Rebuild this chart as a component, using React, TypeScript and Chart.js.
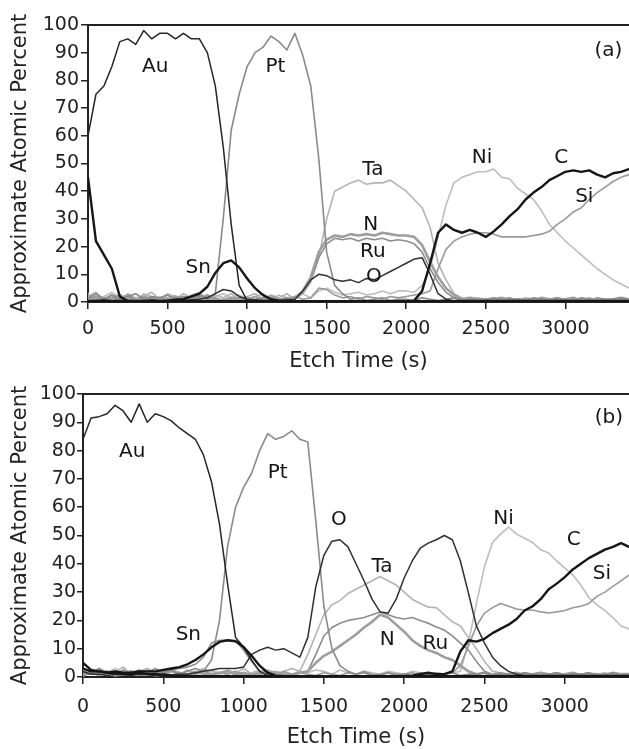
import React, { useEffect, useRef } from "react";
import { Chart, registerables } from "chart.js";

Chart.register(...registerables);

const FONT = "'DejaVu Sans', sans-serif";

// ---------- shared axes ----------
const etchTime = [0, 50, 100, 150, 200, 250, 300, 350, 400, 450, 500, 550, 600, 650, 700, 750, 800, 850, 900, 950, 1000, 1050, 1100, 1150, 1200, 1250, 1300, 1350, 1400, 1450, 1500, 1550, 1600, 1650, 1700, 1750, 1800, 1850, 1900, 1950, 2000, 2050, 2100, 2150, 2200, 2250, 2300, 2350, 2400, 2450, 2500, 2550, 2600, 2650, 2700, 2750, 2800, 2850, 2900, 2950, 3000, 3050, 3100, 3150, 3200, 3250, 3300, 3350, 3400];
const xTickValues = [0, 500, 1000, 1500, 2000, 2500, 3000];
const yTickValues = [0, 10, 20, 30, 40, 50, 60, 70, 80, 90, 100];
const xTitle = "Etch Time (s)";
const yTitle = "Approximate Atomic Percent";

// ---------- panel (a) ----------
const auA = [
  60, 75, 78, 85, 94, 95, 93, 98, 95, 97,
  97, 95, 97, 95, 95, 90, 78, 56, 28, 6,
  0.5, 0.3, 0.2, 0.2, 0.2, 0.2, 0.2, 0.2, 0.2, 0.2,
  0.2, 0.2, 0.2, 0.2, 0.2, 0.2, 0.2, 0.2, 0.2, 0.2,
  0.2, 0.2, 0.2, 0.2, 0.2, 0.2, 0.2, 0.2, 0.2, 0.2,
  0.2, 0.2, 0.2, 0.2, 0.2, 0.2, 0.2, 0.2, 0.2, 0.2,
  0.2, 0.2, 0.2, 0.2, 0.2, 0.2, 0.2, 0.2, 0.2];
const ptA = [
  1.5, 3, 1, 2.5, 1, 2, 3, 1, 2, 1.5,
  2.5, 1, 2, 1.5, 2.5, 1.5, 3, 30, 62, 75,
  85, 90, 92, 96, 94, 91, 97, 89, 78, 52,
  18, 6, 3, 1, 1.5, 0.5, 1, 1.5, 0.5, 1,
  1, 0.5, 1.5, 1, 0.5, 1, 1.5, 0.5, 1, 0.5,
  1, 1.5, 0.5, 1, 1, 0.5, 1.5, 1, 0.5, 1,
  1, 0.5, 1.5, 1, 0.5, 1, 1, 1.5, 0.5];
const snA = [
  0.3, 0.3, 0.3, 0.3, 0.3, 0.3, 0.3, 0.3, 0.3, 0.3,
  0.5, 0.8, 1, 2, 3, 5.5, 10.5, 14, 15, 12.5,
  8.5, 5, 2.5, 1, 0.5, 0.3, 0.3, 0.3, 0.3, 0.3,
  0.3, 0.3, 0.3, 0.3, 0.3, 0.3, 0.3, 0.3, 0.3, 0.3,
  0.3, 0.3, 0.3, 0.3, 0.3, 0.3, 0.3, 0.3, 0.3, 0.3,
  0.3, 0.3, 0.3, 0.3, 0.3, 0.3, 0.3, 0.3, 0.3, 0.3,
  0.3, 0.3, 0.3, 0.3, 0.3, 0.3, 0.3, 0.3, 0.3];
const cA = [
  45, 22, 17, 12, 2, 0.3, 0.3, 0.3, 0.3, 0.3,
  0.3, 0.3, 0.3, 0.3, 0.3, 0.3, 0.3, 0.3, 0.3, 0.3,
  0.3, 0.3, 0.3, 0.3, 0.3, 0.3, 0.3, 0.3, 0.3, 0.3,
  0.3, 0.3, 0.3, 0.3, 0.3, 0.3, 0.3, 0.3, 0.3, 0.3,
  0.3, 0.5, 4, 14, 25, 28, 26, 25, 26, 25,
  23.5, 25.5, 28, 31, 33.5, 37, 39.5, 41.5, 44, 45.5,
  47, 47.5, 47, 47.5, 46, 45, 46.5, 47, 48];
const oA = [
  0.5, 0.5, 0.8, 0.5, 0.5, 0.6, 0.5, 0.5, 0.8, 0.5,
  0.5, 0.8, 0.5, 0.8, 1, 1.5, 3, 4.5, 4, 2,
  1, 0.8, 0.5, 0.5, 0.5, 0.8, 1, 4, 8, 10,
  9.5, 8, 7.5, 8, 7, 8.5, 8, 9.5, 11, 12.5,
  14, 15.5, 16, 10, 3, 1, 0.5, 0.5, 0.5, 0.5,
  0.5, 0.5, 0.5, 0.5, 0.5, 0.5, 0.5, 0.5, 0.5, 0.5,
  0.5, 0.5, 0.5, 0.5, 0.5, 0.5, 0.5, 0.5, 0.5];
const taA = [
  2, 3.5, 1, 2.5, 0.5, 3, 1.5, 2, 3.5, 1,
  2.5, 1, 3, 1.5, 2, 0.5, 2.5, 1.5, 3, 1,
  2, 3, 1, 2.5, 1.5, 3, 1, 3, 7, 16,
  30, 40, 41.5, 43, 44, 42.5, 43, 43, 44, 42,
  40, 37, 34, 27, 14, 8, 3, 1.5, 1, 1.5,
  1, 0.5, 1.5, 1, 0.5, 1.5, 1, 0.5, 1, 1.5,
  1, 0.5, 1, 1.5, 0.5, 1, 1, 0.5, 1];
const nA = [
  1, 2, 0.5, 1.5, 2.5, 1, 0.5, 2, 1, 1.5,
  0.5, 2, 1, 1.5, 1, 2.5, 1, 0.5, 1.5, 1,
  1.5, 0.5, 1, 2, 1, 0.5, 1.5, 4, 9, 18,
  22.5, 24, 23.5, 24.5, 24, 24.5, 24, 25, 24.5, 24,
  24, 23.5, 20.5, 14.5, 9, 5, 2.5, 1, 1.5, 1,
  0.5, 1, 1.5, 0.5, 1, 1, 0.5, 1.5, 1, 0.5,
  1, 1.5, 0.5, 1, 1, 0.5, 1, 1.5, 1];
const ruA = [
  0.5, 1, 1.5, 0.5, 1, 2, 0.5, 1, 1.5, 0.5,
  1, 1.5, 0.5, 1, 2, 1, 1.5, 0.5, 1, 1.5,
  0.5, 1, 1.5, 0.5, 1, 1.5, 1, 3.5, 8, 16,
  21, 23, 22.5, 23, 22, 23, 22.5, 23, 22, 22.5,
  22, 21, 18, 12, 7, 3.5, 1.5, 1, 0.5, 1,
  1, 0.5, 1, 1.5, 0.5, 1, 1, 0.5, 1, 1.5,
  0.5, 1, 1, 0.5, 1.5, 1, 0.5, 1, 1];
const niA = [
  3, 1, 2, 3.5, 1.5, 2.5, 0.5, 3, 2, 1,
  3, 2, 1, 2.5, 3.5, 1, 2, 3, 1.5, 2.5,
  1, 2, 3, 1, 2.5, 1.5, 2, 3, 1.5, 4,
  5, 3.5, 2.5, 3, 3.5, 2.5, 3, 4, 3, 4,
  4, 3.5, 6, 12, 23.5, 35, 43, 45, 46, 47,
  47, 48, 45, 44.5, 41, 39, 37, 33, 28, 25,
  22, 19.5, 17, 14.5, 12, 10, 8, 6.5, 5];
const siA = [
  1, 2, 0.5, 1.5, 1, 2.5, 1, 0.5, 2, 1,
  1.5, 0.5, 2, 1, 1.5, 2, 0.5, 1, 1.5, 0.5,
  1, 2, 0.5, 1.5, 1, 0.5, 2, 1, 1.5, 5,
  4.5, 2.5, 1.5, 2, 1, 2, 1.5, 1, 2, 1.5,
  2, 2.5, 3, 4, 12, 19, 22, 23.5, 24.5, 25,
  25, 24.5, 23.5, 23.5, 23.5, 23.5, 24, 24.5, 25.5, 28,
  30, 32.5, 34, 37, 39.5, 41.5, 43.5, 45, 46];

// ---------- panel (b) ----------
const auB = [
  84, 91.5, 92, 93, 96, 94, 90, 96.5, 90, 93,
  92, 90.5, 88, 86, 84, 78.5, 69, 54, 33, 14,
  10.5, 6, 2, 0.5, 0.3, 0.3, 0.3, 0.3, 0.3, 0.3,
  0.3, 0.3, 0.3, 0.3, 0.3, 0.3, 0.3, 0.3, 0.3, 0.3,
  0.3, 0.3, 0.3, 0.3, 0.3, 0.3, 0.3, 0.3, 0.3, 0.3,
  0.3, 0.3, 0.3, 0.3, 0.3, 0.3, 0.3, 0.3, 0.3, 0.3,
  0.3, 0.3, 0.3, 0.3, 0.3, 0.3, 0.3, 0.3, 0.3];
const ptB = [
  2, 1, 3, 1.5, 1, 2.5, 1, 2, 1.5, 3,
  1.5, 2.5, 1, 2, 3, 2, 6, 20, 46, 60,
  67, 72, 80, 86, 84, 85, 87, 84, 83, 55,
  25, 10, 4, 2, 1, 1.5, 0.5, 1, 1.5, 0.5,
  1, 0.5, 1.5, 1, 0.5, 1, 1.5, 0.5, 1, 1,
  1.5, 0.5, 1, 1, 0.5, 1.5, 1, 0.5, 1, 1.5,
  0.5, 1, 1, 1.5, 0.5, 1, 1.5, 0.5, 1];
const snB = [
  3, 2, 2, 1.5, 2, 1.5, 1.5, 2, 2, 2,
  2.5, 3, 3.5, 4.5, 6, 8, 10.5, 12.4, 13, 12.6,
  10.6, 7.5, 4, 1.5, 0.5, 0.3, 0.3, 0.3, 0.3, 0.3,
  0.3, 0.3, 0.3, 0.3, 0.3, 0.3, 0.3, 0.3, 0.3, 0.3,
  0.3, 0.3, 0.3, 0.3, 0.3, 0.3, 0.3, 0.3, 0.3, 0.3,
  0.3, 0.3, 0.3, 0.3, 0.3, 0.3, 0.3, 0.3, 0.3, 0.3,
  0.3, 0.3, 0.3, 0.3, 0.3, 0.3, 0.3, 0.3, 0.3];
const ruB = [
  1, 2, 1.5, 0.5, 2, 1, 1.5, 2.5, 1, 1.5,
  2, 2.5, 3, 3.5, 4.5, 7, 12, 13, 13, 13,
  9.5, 5.5, 2, 1, 1.5, 0.5, 1, 1.5, 2, 8,
  14.5, 17.5, 19, 20, 20.5, 21, 22, 23, 22, 21,
  20.5, 21, 20, 19, 17.7, 16.6, 14.5, 12, 9.5, 5.5,
  2, 1, 1.5, 0.5, 1, 1.5, 1, 0.5, 1, 1.5,
  1, 0.5, 1, 1.5, 0.5, 1, 1, 0.5, 1];
const nB = [
  0.5, 1.5, 1, 2, 0.5, 1, 2, 1, 1.5, 0.5,
  1, 2, 1.5, 0.5, 1, 2, 1, 1.5, 2, 1,
  1.5, 0.5, 1, 2, 1.5, 1, 0.5, 1.5, 2, 5,
  7.5, 9, 11, 13, 15, 17.5, 19.5, 22, 21, 18.5,
  16, 13, 11, 9.5, 8.5, 7, 6, 4, 2, 1,
  1.5, 0.5, 1, 1, 1.5, 0.5, 1, 1.5, 1, 0.5,
  1, 1.5, 0.5, 1, 1, 0.5, 1.5, 1, 1];
const taB = [
  2.5, 1, 3, 1.5, 2, 3.5, 1, 2, 3, 1.5,
  2, 3, 1, 2.5, 1.5, 3, 2, 1, 2.5, 1.5,
  3, 1, 2, 2.5, 1, 2, 3, 2, 8, 15,
  22, 25.5, 27, 29.5, 31, 32.5, 34, 35.5, 34, 32.5,
  30, 27.5, 26, 24.7, 24.5, 22, 19.5, 18, 14, 10,
  5.5, 2, 1.5, 1, 1.5, 0.5, 1, 1.5, 1, 0.5,
  1, 1.5, 1, 0.5, 1, 1.5, 0.5, 1, 1];
const oB = [
  2, 1, 1, 0.5, 1, 0.8, 0.5, 1, 0.8, 0.5,
  1, 0.8, 1, 1, 1.5, 2, 2.5, 3, 3, 3,
  3.5, 8, 9.5, 10.5, 9.5, 10, 8.5, 7, 14, 32,
  43, 48, 48.5, 46, 40, 34, 27.5, 23, 22.6, 27.5,
  35, 41, 45.5, 47.3, 48.5, 50, 48.5, 41, 29.7, 18,
  12, 7, 4, 2, 1, 0.5, 0.5, 0.5, 0.5, 0.5,
  0.5, 0.5, 0.5, 0.5, 0.5, 0.5, 0.5, 0.5, 0.5];
const cB = [
  5, 2.5, 2, 1.5, 1.5, 1, 1, 1.5, 1, 1,
  0.8, 0.5, 0.3, 0.3, 0.3, 0.3, 0.3, 0.3, 0.3, 0.3,
  0.3, 0.3, 0.3, 0.3, 0.3, 0.3, 0.3, 0.3, 0.3, 0.3,
  0.3, 0.3, 0.3, 0.3, 0.3, 0.3, 0.3, 0.3, 0.3, 0.3,
  0.3, 0.5, 1, 1.5, 1, 1, 2, 9, 13, 12.5,
  13.5, 15.5, 17, 18.5, 20.5, 23.5, 25, 27.5, 31, 33,
  35.3, 38, 40, 42, 43.5, 45, 46, 47.3, 46];
const niB = [
  2, 1, 2.5, 1.5, 3, 1, 2, 1.5, 2.5, 1,
  1.5, 2.5, 1, 2, 1.5, 1, 2.5, 1.5, 1, 2,
  1, 1.5, 2.5, 1, 2, 1.5, 1, 2, 1.5, 2.5,
  2, 1, 2.5, 1.5, 1, 2, 1.5, 1, 2, 1.5,
  1, 2, 1.5, 1, 1.5, 1, 1.5, 2, 12, 26,
  39, 47.5, 50.5, 53, 50.5, 49, 47.5, 45, 43.8, 41,
  38.5, 36, 32.5, 28, 25.5, 23.5, 21, 18, 17];
const siB = [
  1, 1.5, 0.5, 2, 1, 1.5, 2, 0.5, 1, 1.5,
  1, 0.5, 1.5, 1, 2, 1, 0.5, 1.5, 1, 2,
  0.5, 1, 1.5, 1, 0.5, 2, 1, 1.5, 1, 0.5,
  1.5, 1, 0.5, 1.5, 1, 2, 1, 0.5, 1.5, 1,
  1, 1.5, 0.5, 1, 1.5, 1, 1.5, 4, 11, 18,
  22.6, 24.5, 26, 25, 24, 23.7, 23.7, 23, 22.6, 23,
  23.5, 24.5, 25, 26, 28.5, 30, 32, 34, 36];

// ---------- in-plot labels (data units: etch time, percent) ----------
const labelsA = [
  { text: "Au", t: 422, v: 85 },
  { text: "Pt", t: 1178, v: 85 },
  { text: "Sn", t: 693, v: 12.3 },
  { text: "Ta", t: 1790, v: 47.7 },
  { text: "N", t: 1777, v: 27.8 },
  { text: "Ru", t: 1790, v: 18 },
  { text: "O", t: 1796, v: 9 },
  { text: "Ni", t: 2476, v: 52 },
  { text: "C", t: 2974, v: 52 },
  { text: "Si", t: 3119, v: 38 },
  { text: "(a)", t: 3270, v: 90.6 },
];
const labelsB = [
  { text: "Au", t: 306, v: 79.5 },
  { text: "Pt", t: 1212, v: 72 },
  { text: "Sn", t: 656, v: 14.8 },
  { text: "O", t: 1594, v: 55.5 },
  { text: "Ta", t: 1862, v: 39 },
  { text: "N", t: 1894, v: 13 },
  { text: "Ru", t: 2194, v: 11.7 },
  { text: "Ni", t: 2619, v: 56 },
  { text: "C", t: 3056, v: 48.4 },
  { text: "Si", t: 3231, v: 36.4 },
  { text: "(b)", t: 3275, v: 91.5 },
];

// ---------- styles ----------
const STYLE: Record<string, { color: string; width: number }> = {
  C: { color: "#151515", width: 2.4 },
  Sn: { color: "#151515", width: 2.4 },
  Au: { color: "#262626", width: 1.5 },
  O: { color: "#303030", width: 1.5 },
  Pt: { color: "#8a8a8a", width: 1.6 },
  N: { color: "#9e9e9e", width: 2.6 },
  Ru: { color: "#8c8c8c", width: 1.6 },
  Si: { color: "#999999", width: 1.6 },
  Ta: { color: "#b3b3b3", width: 1.6 },
  Ni: { color: "#bdbdbd", width: 1.6 },
};

type Panel = {
  series: { name: string; values: number[] }[];
  labels: { text: string; t: number; v: number }[];
  padTop: number;
  yWidth: number;
  xHeight: number;
  yTickLen: number;
  yPad: number;
  xPad: number;
  xTitleGap: number;
};

const panelA: Panel = {
  series: [
    { name: "C", values: cA }, { name: "Sn", values: snA }, { name: "Au", values: auA },
    { name: "O", values: oA }, { name: "Pt", values: ptA }, { name: "N", values: nA },
    { name: "Ru", values: ruA }, { name: "Si", values: siA }, { name: "Ta", values: taA },
    { name: "Ni", values: niA },
  ],
  labels: labelsA,
  padTop: 25, yWidth: 88, xHeight: 78, yTickLen: 7, yPad: 2, xPad: 9, xTitleGap: 60,
};
const panelB: Panel = {
  series: [
    { name: "C", values: cB }, { name: "Sn", values: snB }, { name: "Au", values: auB },
    { name: "O", values: oB }, { name: "Pt", values: ptB }, { name: "N", values: nB },
    { name: "Ru", values: ruB }, { name: "Si", values: siB }, { name: "Ta", values: taB },
    { name: "Ni", values: niB },
  ],
  labels: labelsB,
  padTop: 24, yWidth: 83, xHeight: 72, yTickLen: 6, yPad: 1, xPad: 12, xTitleGap: 61,
};

function buildConfig(p: Panel): any {
  const decorate = {
    id: "decorate",
    afterDraw(chart: any) {
      const { ctx, chartArea, scales } = chart;
      const x = scales.x;
      const y = scales.y;
      ctx.save();
      // top frame line
      ctx.strokeStyle = "#222";
      ctx.lineWidth = 2;
      ctx.beginPath();
      ctx.moveTo(chartArea.left, chartArea.top);
      ctx.lineTo(chartArea.right, chartArea.top);
      ctx.stroke();
      // element labels
      ctx.fillStyle = "#151515";
      ctx.font = `20px ${FONT}`;
      ctx.textAlign = "center";
      ctx.textBaseline = "middle";
      for (const l of p.labels) {
        ctx.fillText(l.text, x.getPixelForValue(l.t), y.getPixelForValue(l.v));
      }
      // axis titles
      ctx.font = `21px ${FONT}`;
      ctx.fillStyle = "#222";
      ctx.fillText(xTitle, (chartArea.left + chartArea.right) / 2, chartArea.bottom + p.xTitleGap);
      ctx.translate(21, (chartArea.top + chartArea.bottom) / 2);
      ctx.rotate(-Math.PI / 2);
      ctx.fillText(yTitle, 0, 0);
      ctx.restore();
    },
  };

  const datasets = p.series.map((s) => ({
    label: s.name,
    data: etchTime.map((t, i) => ({ x: t, y: s.values[i] })),
    borderColor: STYLE[s.name].color,
    borderWidth: STYLE[s.name].width,
    pointRadius: 0,
    tension: 0,
    fill: false,
    borderJoinStyle: "round",
    borderCapStyle: "round",
  }));

  return {
    type: "line",
    data: { datasets },
    options: {
      responsive: false,
      animation: false,
      events: [],
      layout: { padding: { top: p.padTop, right: 0, left: 0, bottom: 0 } },
      plugins: { legend: { display: false }, tooltip: { enabled: false } },
      scales: {
        x: {
          type: "linear",
          min: 0,
          max: 3400,
          afterBuildTicks: (s: any) => {
            s.ticks = xTickValues.map((v) => ({ value: v }));
          },
          afterFit: (s: any) => {
            s.height = p.xHeight;
          },
          grid: { drawOnChartArea: false, drawTicks: true, tickLength: 7, color: "#222", lineWidth: 1.5 },
          border: { display: true, color: "#222", width: 2 },
          ticks: {
            font: { family: FONT, size: 19 },
            color: "#222",
            padding: p.xPad,
            maxRotation: 0,
            autoSkip: false,
            callback: (v: any) => String(v),
          },
        },
        y: {
          type: "linear",
          min: 0,
          max: 100,
          afterBuildTicks: (s: any) => {
            s.ticks = yTickValues.map((v) => ({ value: v }));
          },
          afterFit: (s: any) => {
            s.width = p.yWidth;
          },
          grid: { drawOnChartArea: false, drawTicks: true, tickLength: p.yTickLen, color: "#222", lineWidth: 1.5 },
          border: { display: true, color: "#222", width: 2 },
          ticks: {
            font: { family: FONT, size: 19 },
            color: "#222",
            padding: p.yPad,
            autoSkip: false,
            callback: (v: any) => String(v),
          },
        },
      },
    },
    plugins: [decorate],
  };
}

function PanelChart({ panel, top, height }: { panel: Panel; top: number; height: number }) {
  const ref = useRef<HTMLCanvasElement>(null);
  useEffect(() => {
    const chart = new Chart(ref.current as HTMLCanvasElement, buildConfig(panel));
    return () => chart.destroy();
  }, [panel]);
  return (
    <canvas
      ref={ref}
      width={629}
      height={height}
      style={{ position: "absolute", left: 0, top, width: 629, height }}
    />
  );
}

export default function App() {
  return (
    <div style={{ position: "absolute", left: 0, top: 0, width: 629, height: 749, background: "#fff", overflow: "hidden" }}>
      <PanelChart panel={panelA} top={0} height={380} />
      <PanelChart panel={panelB} top={370} height={379} />
    </div>
  );
}
